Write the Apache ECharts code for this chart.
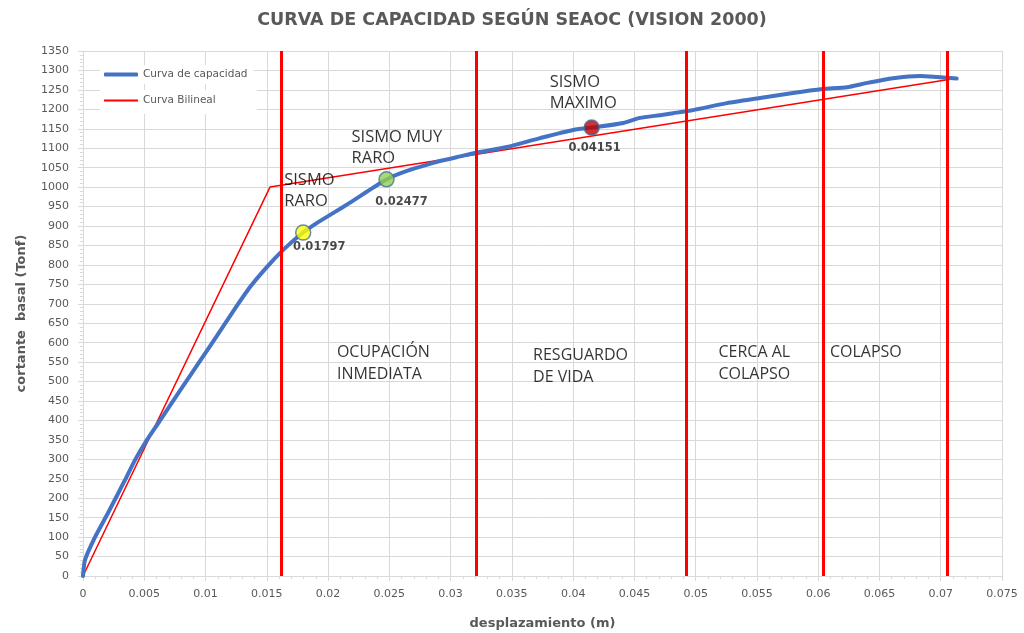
<!DOCTYPE html>
<html>
<head>
<meta charset="utf-8">
<script src="https://cdn.jsdelivr.net/npm/echarts@6/dist/echarts.min.js"></script>
<style>
  html, body { margin: 0; padding: 0; background: #fff; }
  #chart { width: 1024px; height: 633px; }
</style>
</head>
<body>
<div id="chart"></div>
<script>
// Curva de capacidad (pushover): desplazamiento (m) vs cortante basal (Tonf)
const desplazamiento = [0, 0.00016, 0.00098, 0.00204, 0.00343, 0.00424, 0.00506, 0.00612, 0.00726, 0.00816,
  0.00955, 0.01094, 0.01224, 0.01363, 0.01502, 0.01632, 0.01771, 0.0191, 0.0204, 0.02179,
  0.0244, 0.0253, 0.02644, 0.0281, 0.02913, 0.03077, 0.03216, 0.0346, 0.0373, 0.04,
  0.042, 0.0441, 0.04546, 0.04709, 0.04815, 0.04978, 0.05256, 0.05525, 0.05794, 0.06039,
  0.06235, 0.064, 0.0661, 0.0683, 0.0697, 0.0713];
const cortante = [0, 41, 100, 162, 247, 298, 342, 392, 446, 488,
  553, 618, 680, 743, 795, 838, 877, 908, 933, 960,
  1013, 1028, 1042, 1058, 1067, 1079, 1089, 1103, 1126, 1147,
  1155, 1165, 1178, 1185, 1190, 1198, 1216, 1229, 1242, 1252,
  1257, 1268, 1280, 1286, 1283, 1279];

// Curva bilineal idealizada
const bilinealX = [0, 0.01526, 0.0713];
const bilinealY = [0, 1000, 1280];

// Límites de desempeño SEAOC (Vision 2000)
const limites = [0.0162, 0.0321, 0.0492, 0.0604, 0.0705];
const niveles = ['OCUPACIÓN\nINMEDIATA', 'RESGUARDO\nDE VIDA', 'CERCA AL\nCOLAPSO', 'COLAPSO\n '];

// Puntos de desempeño por sismo
const sismos = ['SISMO\nRARO', 'SISMO MUY\nRARO', 'SISMO\nMAXIMO'];
const sismoDesp = [0.01797, 0.02477, 0.04151];
const sismoCortante = [883, 1020, 1153];
const sismoColor = ['#FFFF00', '#92D050', '#C00000'];

// Etiquetas de ejes
const xTitulo = 'desplazamiento (m)';
const yTitulo = 'cortante  basal (Tonf)';
const titulo = 'CURVA DE CAPACIDAD SEGÚN SEAOC (VISION 2000)';

const gray = '#595959';
const gridColor = '#D9D9D9';

const curva = desplazamiento.map((x, i) => [x, cortante[i]]);
const bilineal = bilinealX.map((x, i) => [x, bilinealY[i]]);

// label offsets for the earthquake names / values around each marker
const nameOffsets = [[-19, -42], [-35, -32], [-42, -35]];
const valueOffsets = [[16, 14], [15, 23], [3, 20]];
const zoneOffsets = [[-42, 1], [-48, 4], [-36, 1], [-55, 1]];
const zonaCortante = 548;

const puntos = sismoDesp.map((x, i) => ({
  value: [x, sismoCortante[i]],
  itemStyle: { color: sismoColor[i] },
  label: { offset: valueOffsets[i] }
}));
const nombres = sismoDesp.map((x, i) => ({
  value: [x, sismoCortante[i]],
  name: sismos[i],
  label: { offset: nameOffsets[i] }
}));
const zonas = niveles.map((t, i) => ({
  value: [(limites[i] + limites[i + 1]) / 2, zonaCortante],
  name: t,
  label: { offset: zoneOffsets[i] }
}));

const chart = echarts.init(document.getElementById('chart'), null, { renderer: 'canvas' });
chart.setOption({
  backgroundColor: '#fff',
  animation: false,
  title: {
    text: titulo,
    left: 'center',
    top: 6,
    textStyle: { fontFamily: 'DejaVu Sans', fontWeight: 'bold', fontSize: 17.5, color: gray }
  },
  legend: [
    {
      data: ['Curva de capacidad'],
      left: 100, top: 65,
      orient: 'vertical',
      itemWidth: 34, itemHeight: 4, icon: 'roundRect',
      backgroundColor: '#fff',
      padding: [4, 6, 4, 4],
      textStyle: { fontFamily: 'DejaVu Sans', fontSize: 10.5, color: gray }
    },
    {
      data: ['Curva Bilineal'],
      left: 100, top: 90,
      orient: 'vertical',
      itemWidth: 34, itemHeight: 2, icon: 'rect',
      backgroundColor: '#fff',
      padding: [5, 41, 8, 4],
      textStyle: { fontFamily: 'DejaVu Sans', fontSize: 10.5, color: gray }
    }
  ],
  grid: { left: 83, right: 22, top: 51, bottom: 57, containLabel: false, outerBoundsMode: 'none' },
  xAxis: {
    type: 'value',
    min: 0, max: 0.075, interval: 0.005,
    name: xTitulo,
    nameLocation: 'middle',
    nameGap: 41,
    nameTextStyle: { fontFamily: 'DejaVu Sans', fontWeight: 'bold', fontSize: 13, color: gray },
    axisLine: { show: true, lineStyle: { color: gridColor, width: 1 } },
    axisTick: { show: true, length: 5, lineStyle: { color: gridColor } },
    minorTick: { show: true, splitNumber: 5, length: 3, lineStyle: { color: gridColor } },
    axisLabel: {
      margin: 13,
      fontFamily: 'DejaVu Sans', fontSize: 11, color: gray,
      formatter: v => v === 0 ? '0' : String(+v.toFixed(3))
    },
    splitLine: { show: true, lineStyle: { color: gridColor, width: 1 } }
  },
  yAxis: {
    type: 'value',
    min: 0, max: 1350, interval: 50,
    name: yTitulo,
    nameLocation: 'middle',
    nameGap: 55,
    nameTextStyle: { fontFamily: 'DejaVu Sans', fontWeight: 'bold', fontSize: 13, color: gray },
    axisLine: { show: true, lineStyle: { color: gridColor, width: 1 } },
    axisTick: { show: true, length: 5, lineStyle: { color: gridColor } },
    minorTick: { show: true, splitNumber: 5, length: 3, lineStyle: { color: gridColor } },
    axisLabel: { margin: 14, fontFamily: 'DejaVu Sans', fontSize: 11, color: gray, formatter: v => String(v) },
    splitLine: { show: true, lineStyle: { color: gridColor, width: 1 } }
  },
  series: [
    {
      name: 'Curva Bilineal',
      type: 'line',
      data: bilineal,
      showSymbol: false,
      symbol: 'none',
      z: 3,
      lineStyle: { color: '#FF0000', width: 1.5 },
      itemStyle: { color: '#FF0000' },
      markLine: {
        silent: true,
        precision: 5,
        symbol: ['none', 'none'],
        label: { show: false },
        lineStyle: { color: '#FF0000', width: 3, type: 'solid' },
        data: limites.map(x => ({ xAxis: x }))
      }
    },
    {
      name: 'Curva de capacidad',
      type: 'line',
      data: curva,
      smooth: 0.2,
      showSymbol: false,
      symbol: 'none',
      z: 4,
      lineStyle: { color: '#4472C4', width: 4, cap: 'round', join: 'round' },
      itemStyle: { color: '#4472C4' }
    },
    {
      name: 'sismos',
      type: 'scatter',
      data: puntos,
      symbolSize: 15,
      z: 6,
      itemStyle: { borderColor: '#41719C', borderWidth: 1.5 },
      label: {
        show: true,
        position: 'inside',
        formatter: p => String(p.value[0]),
        fontFamily: 'DejaVu Sans', fontWeight: 'bold', fontSize: 11.5, color: '#1a1a1a'
      }
    },
    {
      name: 'nombres',
      type: 'scatter',
      data: nombres,
      symbolSize: 0,
      silent: true,
      z: 7,
      label: {
        show: true,
        position: 'inside',
        align: 'left',
        verticalAlign: 'middle',
        formatter: p => p.name,
        fontFamily: 'Open Sans', fontSize: 16.5, lineHeight: 21, color: '#000'
      }
    },
    {
      name: 'zonas',
      type: 'scatter',
      data: zonas,
      symbolSize: 0,
      silent: true,
      z: 7,
      label: {
        show: true,
        position: 'inside',
        align: 'left',
        verticalAlign: 'middle',
        formatter: p => p.name,
        fontFamily: 'Open Sans', fontSize: 16, lineHeight: 22, color: '#000'
      }
    }
  ]
});
</script>
</body>
</html>
